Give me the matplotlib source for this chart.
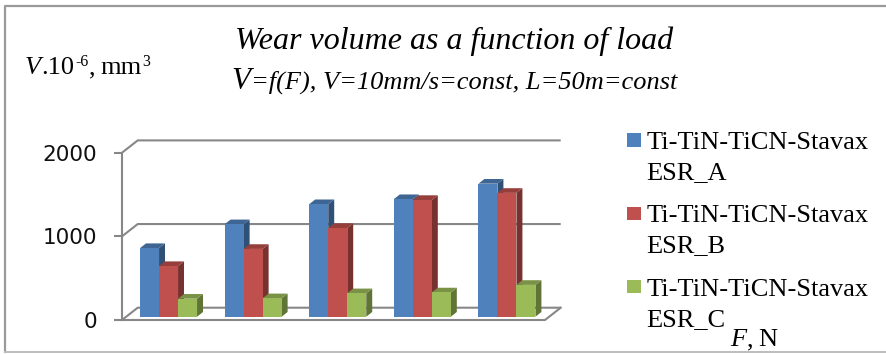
import matplotlib
matplotlib.use("Agg")
import matplotlib.pyplot as plt
from matplotlib.patches import Polygon, Rectangle
from matplotlib.lines import Line2D
from matplotlib.colors import to_rgb

# ---- data -------------------------------------------------------------
series_names = [
    ("Ti-TiN-TiCN-Stavax", "ESR_A"),
    ("Ti-TiN-TiCN-Stavax", "ESR_B"),
    ("Ti-TiN-TiCN-Stavax", "ESR_C"),
]
wear_a = [820, 1105, 1345, 1405, 1590]
wear_b = [605, 810, 1060, 1395, 1480]
wear_c = [215, 220, 280, 290, 380]
y_ticks = [0, 1000, 2000]
y_tick_labels = ["0", "1000", "2000"]

series = [wear_a, wear_b, wear_c]
colors = ["#4F81BD", "#C0504D", "#9BBB59"]

# ---- figure -----------------------------------------------------------
W, H = 887, 354
fig = plt.figure(figsize=(W / 100, H / 100), dpi=100)
fig.patch.set_facecolor("white")


def fx(px):
    return px / W


def fy(py):
    return 1 - py / H


GRAY = "#878787"
SERIF = "Liberation Serif"

# outer chart frame
fig.add_artist(Line2D([fx(5), fx(5), fx(W + 5)], [fy(352), fy(6), fy(6)],
                      transform=fig.transFigure, color="#9A9A9A", lw=1.6))
fig.add_artist(Line2D([fx(5), fx(W + 5)], [fy(352), fy(352)],
                      transform=fig.transFigure, color="#BDBDBD", lw=1.4))

# plot area: category units horizontally, wear volume vertically
n_groups = len(wear_a)
x_lo, x_hi = -0.2, n_groups + 0.6
y_lo, y_hi = -150, 2300
px_x = 84.6          # pixels per category
px_y = 0.08365       # pixels per unit of volume
x0_px, y0_px = 122, 320
left = x0_px + x_lo * px_x
bottom = y0_px - y_lo * px_y
ax = fig.add_axes([fx(left), fy(bottom),
                   (x_hi - x_lo) * px_x / W, (y_hi - y_lo) * px_y / H])
ax.set_xlim(x_lo, x_hi)
ax.set_ylim(y_lo, y_hi)
ax.patch.set_alpha(0)

# oblique depth offset of the back wall
DX = 15.7 / px_x
DY = 12.3 / px_y

for s in ("top", "right", "bottom"):
    ax.spines[s].set_visible(False)
ax.spines["left"].set_position(("data", 0))
ax.spines["left"].set_bounds(0, 2000)
ax.spines["left"].set_color(GRAY)
ax.spines["left"].set_linewidth(1.5)
ax.set_xticks([])
ax.set_yticks(y_ticks)
ax.set_yticklabels(y_tick_labels, fontsize=15.5, family="DejaVu Sans")
ax.tick_params(axis="y", direction="out", length=5.8, width=1.5,
               color=GRAY, pad=12, labelcolor="#111111")

# back wall grid lines and floor
for v in y_ticks:
    ax.plot([0, DX, n_groups + DX], [v + 0, v + DY, v + DY],
            color=GRAY, lw=1.5, zorder=1, solid_capstyle="butt")
ax.plot([0, n_groups, n_groups + DX], [0, 0, DY], color=GRAY, lw=1.5,
        zorder=1)


def shade(c, f):
    r, g, b = to_rgb(c)
    return (r * f, g * f, b * f)


# 3-D looking clustered columns
w = 0.2246
zf, zb = 0.27, 0.65
z = 2
for j in range(n_groups):
    for i, (vals, col) in enumerate(zip(series, colors)):
        v = vals[j]
        x0 = j + 0.5 - 1.5 * w + i * w
        fx0, fy0 = x0 + zf * DX, zf * DY
        bx0, by0 = x0 + zb * DX, zb * DY
        side = [(fx0 + w, fy0), (fx0 + w, fy0 + v), (bx0 + w, by0 + v),
                (bx0 + w, by0)]
        top = [(fx0, fy0 + v), (fx0 + w, fy0 + v), (bx0 + w, by0 + v),
               (bx0, by0 + v)]
        ax.add_patch(Polygon(side, closed=True, facecolor=shade(col, 0.62),
                             edgecolor="none", zorder=z))
        ax.add_patch(Polygon(top, closed=True, facecolor=shade(col, 0.78),
                             edgecolor="none", zorder=z))
        ax.bar(fx0, v, width=w, bottom=fy0, align="edge", color=col,
               edgecolor="none", zorder=z + 0.5)
        z += 1

renderer = fig.canvas.get_renderer()


def run(x, y, parts):
    """Write text pieces one after another on a common baseline (pixels)."""
    for s, size, style, rise, gap in parts:
        x += gap
        t = fig.text(fx(x), fy(y - rise), s, fontsize=size, family=SERIF,
                     style=style, ha="left", va="baseline")
        x += t.get_window_extent(renderer).width
    return x


# title and subtitle
run(235, 49.3, [("Wear volume as a function of load", 23, "italic", 0, 0)])
run(231.5, 89, [("V", 22.5, "italic", 0, 0),
                ("=f(F), V=10mm/s=const, L=50m=const", 19, "italic", 0, 0.5)])

# axis titles
run(25, 74, [("V", 19, "italic", 0, 0),
             (".10", 19, "normal", 0, 0.5),
             ("-6", 11.5, "normal", 7.5, 0.5),
             (",", 19, "normal", 0, 0.5),
             ("mm", 19, "normal", 0, 5),
             ("3", 11.5, "normal", 7.5, 0.5)])
run(730, 346, [("F", 19, "italic", 0, 0),
               (",", 19, "normal", 0, 0.5),
               ("N", 19, "normal", 0, 5)])

# legend
for k, ((l1, l2), col) in enumerate(zip(series_names, colors)):
    base = 149.3 + k * 73.2
    fig.add_artist(Rectangle((fx(627.3), fy(base - 2.6)), 13.4 / W, 13.4 / H,
                             transform=fig.transFigure, facecolor=col,
                             edgecolor="none"))
    fig.text(fx(646.7), fy(base), l1, fontsize=19, family=SERIF,
             ha="left", va="baseline")
    fig.text(fx(646.7), fy(base + 30), l2, fontsize=19, family=SERIF,
             ha="left", va="baseline")

fig.savefig("out.png", dpi=100)
